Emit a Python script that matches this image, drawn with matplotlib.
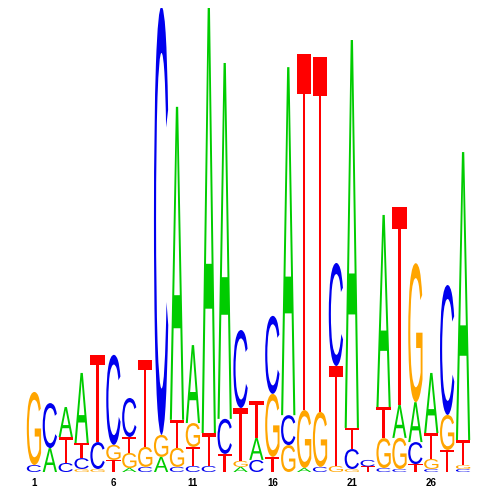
import numpy as np
import matplotlib
matplotlib.use("Agg")
import matplotlib.pyplot as plt
from matplotlib.textpath import TextPath
from matplotlib.patches import PathPatch
from matplotlib.font_manager import FontProperties
from matplotlib.transforms import Affine2D

# information content (bits) of each base at each of the 28 positions
A = [0, .103, .129, .302, 0, 0, .017, 0, .065, 1.349, .336, 1.832, 1.534, .022,
     .095, 0, 1.500, .017, 0, 0, 1.672, 0, .828, .142, .172, .259, 0, 1.241]
C = [.030, .194, .039, .047, .116, .388, .168, .022, 1.845, .022, .026, .026, .151, .336,
     .052, .336, .129, 0, .022, .444, .086, .028, .017, .013, .095, .013, .560, .013]
G = [.315, 0, 0, .013, .013, .065, .065, .086, .095, .082, .103, 0, 0, .026,
     0, .272, .116, .250, .237, .026, .013, 0, .129, .134, .599, .043, .151, .017]
T = [0, 0, .112, .065, .375, .052, .069, .375, 0, .121, .082, .142, .078, .228,
     .159, .065, 0, 1.534, 1.530, .431, .091, .024, .134, .853, .034, .112, .095, .108]

tick_pos = [1, 6, 11, 16, 21, 26]

colors = {"A": "#00CC00", "C": "#0000EE", "G": "#FFA500", "T": "#FF0000"}
glyph_font = FontProperties(family="Liberation Sans")
label_font = FontProperties(family="Liberation Sans", weight="bold")

# glyph outlines, normalised to their own bounding box
glyphs = {}
for base in "ACGT":
    tp = TextPath((0, 0), base, size=1, prop=glyph_font)
    glyphs[base] = (tp, tp.get_extents())


def draw_letter(ax, base, x, y0, h, width=0.9):
    tp, ext = glyphs[base]
    tr = (Affine2D()
          .translate(-ext.x0, -ext.y0)
          .scale(width / ext.width, h / ext.height)
          .translate(x - width / 2, y0))
    ax.add_patch(PathPatch(tr.transform_path(tp), facecolor=colors[base],
                           edgecolor="none", lw=0))


fig = plt.figure(figsize=(5, 5), dpi=100)
ax = fig.add_axes([0.052, 0.056, 0.89, 0.928])

n = len(A)
for i in range(n):
    col = {"A": A[i], "C": C[i], "G": G[i], "T": T[i]}
    y = 0.0
    for base, h in sorted(col.items(), key=lambda kv: kv[1]):
        if h <= 0:
            continue
        draw_letter(ax, base, i + 1, y, h)
        y += h

ax.set_xlim(0.5, n + 0.5)
ax.set_ylim(0, 2)
for s in ax.spines.values():
    s.set_visible(False)
ax.set_yticks([])
ax.set_xticks(tick_pos)
ax.set_xticklabels([str(t) for t in tick_pos], fontproperties=label_font, fontsize=7)
ax.tick_params(axis="x", length=0, pad=4)

fig.savefig("out.png", dpi=100)
